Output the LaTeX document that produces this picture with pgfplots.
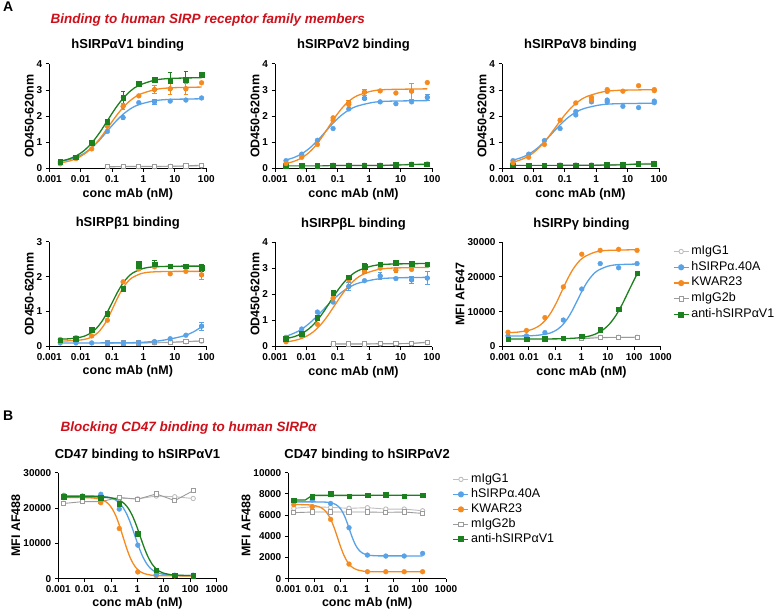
\documentclass[border=0pt]{standalone}
\usepackage{pgfplots}
\pgfplotsset{compat=1.18}
\usepackage{fontspec}
\setmainfont{Liberation Sans}
\definecolor{bcol}{RGB}{88,162,232}
\definecolor{ocol}{RGB}{245,138,30}
\definecolor{gcol}{RGB}{28,128,30}
\definecolor{lgone}{RGB}{190,190,190}
\definecolor{lgtwo}{RGB}{155,155,155}
\definecolor{redt}{RGB}{205,16,26}
\newcommand{\labfont}{\bfseries\fontsize{12.5}{15}\selectfont}
\pgfplotsset{
  prism/.style={
    scale only axis, width=157pt, height=104.5pt,
    axis x line*=bottom, axis y line*=left,
    axis line style={line width=1pt, black},
    tick align=outside, major tick length=3.5pt,
    every tick/.style={line width=1pt, black},
    xtick={-3,-2,-1,0,1,2}, xticklabels={0.001,0.01,0.1,1,10,100},
    xmin=-3, xmax=2, ymin=0, enlargelimits=false,
    ticklabel style={font=\bfseries\fontsize{10}{12}\selectfont},
    scaled y ticks=false, scaled x ticks=false,
    title style={font=\bfseries\fontsize{13}{15}\selectfont, at={(axis description cs:0.5,1)}, anchor=base, yshift=9pt},
    xlabel={conc mAb (nM)},
    every axis x label/.style={at={(axis description cs:0.5,-0.273)}, anchor=base, font=\labfont},
    every axis y label/.style={at={(axis description cs:-0.127,0.5)}, rotate=90, anchor=center, font=\labfont},
    clip=false,
  },
  mfi/.style={
    every axis y label/.style={at={(axis description cs:-0.268,0.5)}, rotate=90, anchor=center, font=\labfont},
    xmax=3, xtick={-3,-2,-1,0,1,2,3}, xticklabels={0.001,0.01,0.1,1,10,100,1000},
  },
  fitb/.style={smooth, no markers, line width=1.3pt, color=bcol, forget plot},
  fito/.style={smooth, no markers, line width=1.3pt, color=ocol, forget plot},
  fitg/.style={smooth, no markers, line width=1.3pt, color=gcol, forget plot},
  ptb/.style={only marks, mark=*, mark size=2.4pt, color=bcol, forget plot},
  pto/.style={only marks, mark=*, mark size=2.4pt, color=ocol, forget plot},
  ptg/.style={only marks, mark=square*, mark size=2.3pt, color=gcol, forget plot},
  lng/.style={mark=square*, mark size=2.3pt, color=gcol, line width=1.1pt, forget plot},
  gone/.style={color=lgone, mark=*, mark size=2.2pt, mark options={fill=white}, line width=0.9pt, forget plot},
  gtwo/.style={color=lgtwo, mark=square*, mark size=2.1pt, mark options={fill=white}, line width=0.9pt, forget plot},
  errb/.style={only marks, mark=none, forget plot, error bars/.cd, y dir=both, y explicit,
     error bar style={line width=0.9pt, color=#1},
     error mark options={rotate=90, mark size=2.3pt, line width=0.9pt, color=#1}},
  leg/.style={
     legend cell align=left,
     legend image code/.code={\draw[mark repeat=2,mark phase=2] plot coordinates {(0pt,0pt) (7.5pt,0pt) (15pt,0pt)};},
     legend style={draw=none, fill=none, font=\fontsize{12.5}{15}\selectfont, inner sep=0pt,
        nodes={inner sep=2pt, text height=8.5pt, text depth=3pt}, row sep=0.3pt},
  },
}
\begin{document}
\begin{tikzpicture}
\path[use as bounding box] (0pt,0pt) rectangle (778pt,-612pt);

\node[anchor=base west, font=\bfseries\fontsize{14}{16}\selectfont] at (-0.5pt,-12pt) {A};
\node[anchor=base west, font=\bfseries\fontsize{14}{16}\selectfont] at (-0.5pt,-420pt) {B};
\node[anchor=base west, text=redt, font=\bfseries\itshape\fontsize{13.5}{16}\selectfont] at (47pt,-24pt) {Binding to human SIRP receptor family members};
\node[anchor=base west, text=redt, font=\bfseries\itshape\fontsize{13.5}{16}\selectfont] at (57pt,-431pt) {Blocking CD47 binding to human SIRPα};

% ---------------- P1 hSIRPaV1
\begin{axis}[prism, at={(49.3pt,-168.5pt)}, anchor=south west, ymax=4, ytick={0,1,2,3,4}, yticklabels={0,1,2,3,4},
  title={hSIRPαV1 binding}, ylabel={OD450-620nm}]
\addplot[gone] coordinates {(-1.15,0.06)(-0.65,0.07)(-0.15,0.07)(0.35,0.07)(0.85,0.08)(1.35,0.08)(1.85,0.10)};
\addplot[gtwo] coordinates {(-1.15,0.07)(-0.65,0.08)(-0.15,0.08)(0.35,0.08)(0.85,0.09)(1.35,0.10)(1.85,0.13)};
\addplot[fitb] coordinates {(-2.65,0.276)(-2.40,0.331)(-2.15,0.425)(-1.90,0.573)(-1.65,0.794)(-1.40,1.089)(-1.15,1.435)(-0.90,1.781)(-0.65,2.076)(-0.40,2.297)(-0.15,2.445)(0.35,2.594)(0.85,2.645)(1.85,2.668)};
\addplot[fito] coordinates {(-2.65,0.212)(-2.35,0.289)(-2.10,0.402)(-1.85,0.582)(-1.60,0.849)(-1.35,1.206)(-1.10,1.625)(-0.85,2.044)(-0.60,2.402)(-0.35,2.668)(-0.10,2.848)(0.40,3.028)(0.90,3.090)(1.85,3.117)};
\addplot[fitg] coordinates {(-2.65,0.281)(-2.40,0.356)(-2.15,0.480)(-1.90,0.678)(-1.65,0.973)(-1.40,1.368)(-1.15,1.830)(-0.90,2.292)(-0.65,2.687)(-0.40,2.982)(-0.15,3.180)(0.35,3.379)(0.85,3.447)(1.85,3.477)};
\addplot[errb=gcol] coordinates {(-0.65,2.72)+-(0,0.22)(0.35,3.40)+-(0,0.08)(0.85,3.36)+-(0,0.30)(1.35,3.40)+-(0,0.33)};
\addplot[errb=ocol] coordinates {(-0.65,2.38)+-(0,0.12)(0.35,3.02)+-(0,0.15)(0.85,3.05)+-(0,0.20)(1.35,3.05)+-(0,0.22)};
\addplot[errb=bcol] coordinates {(0.35,2.55)+-(0,0.10)(-0.65,1.95)+-(0,0.05)};
\addplot[ptb] coordinates {(-2.65,0.25)(-2.15,0.42)(-1.65,0.95)(-1.15,1.42)(-0.65,1.95)(-0.15,2.52)(0.35,2.55)(0.85,2.58)(1.35,2.62)(1.85,2.70)};
\addplot[pto] coordinates {(-2.65,0.18)(-2.15,0.38)(-1.65,0.75)(-1.15,1.62)(-0.65,2.38)(-0.15,2.78)(0.35,3.02)(0.85,3.05)(1.35,3.05)(1.85,3.28)};
\addplot[ptg] coordinates {(-2.65,0.26)(-2.15,0.43)(-1.65,0.98)(-1.15,1.78)(-0.65,2.72)(-0.15,3.25)(0.35,3.40)(0.85,3.36)(1.35,3.40)(1.85,3.58)};
\end{axis}

% ---------------- P2 hSIRPaV2
\begin{axis}[prism, at={(275pt,-168.5pt)}, anchor=south west, ymax=4, ytick={0,1,2,3,4}, yticklabels={0,1,2,3,4},
  title={hSIRPαV2 binding}, ylabel={OD450-620nm}]
\addplot[gone] coordinates {(-1.15,0.13)(-0.65,0.13)(-0.15,0.13)(0.35,0.13)(0.85,0.15)(1.35,0.17)(1.85,0.18)};
\addplot[gtwo] coordinates {(-1.15,0.12)(-0.65,0.12)(-0.15,0.12)(0.35,0.12)(0.85,0.13)(1.35,0.16)(1.85,0.17)};
\addplot[lng] coordinates {(-2.65,0.10)(-2.15,0.10)(-1.65,0.10)(-1.15,0.11)(-0.65,0.11)(-0.15,0.11)(0.35,0.11)(0.85,0.13)(1.35,0.15)(1.85,0.15)};
\addplot[fitb] coordinates {(-2.65,0.328)(-2.4,0.418)(-2.15,0.562)(-1.9,0.777)(-1.65,1.064)(-1.4,1.4)(-1.15,1.736)(-0.9,2.023)(-0.65,2.238)(-0.4,2.382)(0.1,2.526)(0.6,2.576)(1.85,2.599)};
\addplot[fito] coordinates {(-2.65,0.194)(-2.436,0.257)(-2.209,0.368)(-1.982,0.545)(-1.755,0.809)(-1.527,1.162)(-1.30,1.575)(-1.073,1.988)(-0.845,2.341)(-0.618,2.605)(-0.391,2.782)(0.064,2.959)(0.518,3.021)(1.85,3.049)};
\addplot[errb=ocol] coordinates {(1.35,2.96)+-(0,0.30)(-0.15,2.92)+-(0,0.12)(-0.65,2.52)+-(0,0.08)};
\addplot[errb=bcol] coordinates {(1.85,2.72)+-(0,0.12)(-0.15,2.68)+-(0,0.05)};
\addplot[ptb] coordinates {(-2.65,0.30)(-2.15,0.55)(-1.65,1.08)(-1.15,1.53)(-0.65,2.28)(-0.15,2.68)(0.35,2.55)(0.85,2.48)(1.35,2.55)(1.85,2.72)};
\addplot[pto] coordinates {(-2.65,0.19)(-2.15,0.43)(-1.65,0.92)(-1.15,1.94)(-1.15,1.85)(-0.65,2.52)(-0.65,2.45)(-0.15,2.92)(0.35,2.97)(0.85,2.89)(1.35,2.96)(1.85,3.29)};
\end{axis}

% ---------------- P3 hSIRPaV8
\begin{axis}[prism, at={(502pt,-168.5pt)}, anchor=south west, ymax=4, ytick={0,1,2,3,4}, yticklabels={0,1,2,3,4},
  title={hSIRPαV8 binding}, ylabel={OD450-620nm}]
\addplot[gone] coordinates {(-1.15,0.14)(-0.65,0.14)(-0.15,0.14)(0.35,0.15)(0.85,0.16)(1.35,0.19)(1.85,0.20)};
\addplot[gtwo] coordinates {(-1.15,0.12)(-0.65,0.12)(-0.15,0.12)(0.35,0.13)(0.85,0.14)(1.35,0.17)(1.85,0.18)};
\addplot[lng] coordinates {(-2.65,0.12)(-2.15,0.12)(-1.65,0.12)(-1.15,0.12)(-0.65,0.12)(-0.15,0.12)(0.35,0.13)(0.85,0.14)(1.35,0.17)(1.85,0.17)};
\addplot[fitb] coordinates {(-2.65,0.322)(-2.4,0.409)(-2.15,0.547)(-1.9,0.753)(-1.65,1.028)(-1.4,1.35)(-1.15,1.672)(-0.9,1.947)(-0.65,2.153)(-0.4,2.291)(0.1,2.429)(0.6,2.477)(1.85,2.499)};
\addplot[fito] coordinates {(-2.65,0.244)(-2.55,0.274)(-2.30,0.384)(-2.05,0.558)(-1.80,0.817)(-1.55,1.164)(-1.30,1.570)(-1.05,1.976)(-0.80,2.323)(-0.55,2.582)(-0.30,2.756)(0.20,2.931)(0.70,2.991)(1.85,3.018)};
\addplot[ptb] coordinates {(-2.65,0.30)(-2.15,0.55)(-1.65,1.07)(-1.15,1.53)(-0.65,2.05)(-0.65,2.18)(-0.15,2.55)(0.35,2.62)(0.35,2.55)(0.85,2.38)(1.35,2.33)(1.85,2.52)(1.85,2.58)};
\addplot[pto] coordinates {(-2.65,0.22)(-2.15,0.43)(-1.65,0.92)(-1.15,1.85)(-0.65,2.51)(-0.15,2.72)(-0.15,2.62)(0.35,3.02)(0.35,2.95)(0.85,2.96)(1.35,3.17)(1.85,3.02)(1.85,2.98)};
\end{axis}

% ---------------- P4 hSIRPb1
\begin{axis}[prism, at={(49.3pt,-346.4pt)}, anchor=south west, height=104.7pt, ymax=3, ytick={0,1,2,3}, yticklabels={0,1,2,3},
  title={hSIRPβ1 binding}, ylabel={OD450-620nm}]
\addplot[gone] coordinates {(-1.15,0.09)(-0.65,0.09)(-0.15,0.09)(0.35,0.10)(0.85,0.11)(1.35,0.13)(1.85,0.15)};
\addplot[gtwo] coordinates {(-1.15,0.10)(-0.65,0.10)(-0.15,0.10)(0.35,0.12)(0.85,0.12)(1.35,0.14)(1.85,0.16)};
\addplot[fitb] coordinates {(-2.65,0.10)(-1.5,0.10)(-0.5,0.105)(0,0.12)(0.5,0.16)(1,0.24)(1.35,0.32)(1.6,0.42)(1.85,0.56)};
\addplot[fito] coordinates {(-2.65,0.152)(-2.126,0.170)(-1.832,0.211)(-1.685,0.256)(-1.538,0.332)(-1.391,0.452)(-1.244,0.631)(-1.097,0.870)(-0.95,1.15)(-0.803,1.43)(-0.656,1.669)(-0.509,1.848)(-0.362,1.968)(-0.068,2.089)(0.226,2.130)(0.815,2.148)(1.85,2.15)};
\addplot[fitg] coordinates {(-2.65,0.207)(-2.333,0.221)(-2.0,0.265)(-1.833,0.312)(-1.667,0.391)(-1.5,0.517)(-1.333,0.705)(-1.167,0.956)(-1.0,1.25)(-0.833,1.544)(-0.667,1.795)(-0.5,1.983)(-0.333,2.109)(0.0,2.236)(0.333,2.279)(1.0,2.298)(1.85,2.30)};
\addplot[errb=gcol] coordinates {(0.35,2.35)+-(0,0.10)(1.85,2.25)+-(0,0.10)(-0.15,2.38)+-(0,0.05)};
\addplot[errb=ocol] coordinates {(1.85,2.05)+-(0,0.12)};
\addplot[errb=bcol] coordinates {(1.85,0.58)+-(0,0.12)};
\addplot[ptb] coordinates {(-2.65,0.10)(-2.15,0.10)(-1.65,0.10)(-1.15,0.10)(-0.65,0.10)(-0.15,0.11)(0.35,0.14)(0.85,0.22)(1.35,0.32)(1.85,0.58)};
\addplot[pto] coordinates {(-2.65,0.20)(-2.15,0.25)(-1.65,0.30)(-1.15,0.75)(-0.65,1.85)(-0.15,2.22)(0.35,2.28)(0.85,2.08)(1.35,2.15)(1.85,2.05)};
\addplot[ptg] coordinates {(-2.65,0.18)(-2.15,0.22)(-1.65,0.48)(-1.15,0.93)(-0.65,1.65)(-0.15,2.38)(-0.15,2.32)(0.35,2.35)(0.85,2.30)(1.35,2.30)(1.85,2.25)};
\end{axis}

% ---------------- P5 hSIRPbL
\begin{axis}[prism, at={(275pt,-346.5pt)}, anchor=south west, ymax=4, ytick={0,1,2,3,4}, yticklabels={0,1,2,3,4},
  title={hSIRPβL binding}, ylabel={OD450-620nm}]
\addplot[gone] coordinates {(-1.15,0.09)(-0.65,0.09)(-0.15,0.09)(0.35,0.10)(0.85,0.10)(1.35,0.11)(1.85,0.15)};
\addplot[gtwo] coordinates {(-1.15,0.10)(-0.65,0.10)(-0.15,0.10)(0.35,0.11)(0.85,0.11)(1.35,0.12)(1.85,0.17)};
\addplot[fitb] coordinates {(-2.65,0.388)(-2.283,0.570)(-2.006,0.789)(-1.728,1.082)(-1.45,1.425)(-1.172,1.768)(-0.894,2.061)(-0.617,2.280)(-0.339,2.427)(0.217,2.575)(0.772,2.626)(1.85,2.647)};
\addplot[fito] coordinates {(-2.65,0.176)(-2.464,0.209)(-2.236,0.275)(-2.009,0.385)(-1.782,0.559)(-1.555,0.819)(-1.327,1.167)(-1.1,1.575)(-0.873,1.982)(-0.645,2.331)(-0.418,2.591)(-0.191,2.765)(0.264,2.941)(0.718,3.001)(1.85,3.028)};
\addplot[fitg] coordinates {(-2.65,0.303)(-2.386,0.377)(-2.159,0.489)(-1.932,0.667)(-1.705,0.931)(-1.477,1.285)(-1.25,1.70)(-1.023,2.114)(-0.795,2.469)(-0.568,2.733)(-0.341,2.911)(0.114,3.089)(0.568,3.150)(1.85,3.178)};
\addplot[errb=gcol] coordinates {(-0.65,2.65)+-(0,0.08)(-0.15,3.05)+-(0,0.12)(0.35,3.15)+-(0,0.06)};
\addplot[errb=ocol] coordinates {(-0.15,2.88)+-(0,0.10)(0.85,2.92)+-(0,0.10)};
\addplot[errb=bcol] coordinates {(-0.65,2.30)+-(0,0.15)(0.35,2.70)+-(0,0.12)(1.35,2.55)+-(0,0.12)(1.85,2.62)+-(0,0.25)};
\addplot[ptb] coordinates {(-2.65,0.35)(-2.15,0.67)(-1.65,1.32)(-1.15,1.70)(-0.65,2.30)(-0.15,2.52)(0.35,2.70)(0.85,2.60)(1.35,2.55)(1.85,2.62)};
\addplot[pto] coordinates {(-2.65,0.18)(-2.15,0.40)(-1.65,0.85)(-1.15,1.85)(-0.65,2.55)(-0.15,2.88)(0.35,3.00)(0.85,2.92)(1.35,2.95)(1.85,3.10)};
\addplot[ptg] coordinates {(-2.65,0.30)(-2.15,0.50)(-1.65,1.10)(-1.15,2.05)(-0.65,2.65)(-0.15,3.05)(0.35,3.15)(0.85,3.20)(1.35,3.18)(1.85,3.15)};
\end{axis}

% ---------------- P6 hSIRPg
\begin{axis}[prism, mfi, leg, at={(502.5pt,-346.5pt)}, anchor=south west, width=158pt, ymax=30000,
  ytick={0,10000,20000,30000}, yticklabels={0,10000,20000,30000},
  title={hSIRPγ binding}, ylabel={MFI AF647},
  legend style={at={(axis description cs:1.078,0.985)}, anchor=north west}]
\addlegendimage{color=lgone, mark=*, mark size=2.2pt, mark options={fill=white}, line width=0.9pt}
\addlegendentry{mIgG1}
\addlegendimage{color=bcol, mark=*, mark size=2.4pt, line width=1.3pt}
\addlegendentry{hSIRPα.40A}
\addlegendimage{color=ocol, mark=*, mark size=2.4pt, line width=1.3pt}
\addlegendentry{KWAR23}
\addlegendimage{color=lgtwo, mark=square*, mark size=2.1pt, mark options={fill=white}, line width=0.9pt}
\addlegendentry{mIgG2b}
\addlegendimage{color=gcol, mark=square*, mark size=2.3pt, line width=1.3pt}
\addlegendentry{anti-hSIRPαV1}
\addplot[gone] coordinates {(0.01,2750)(0.71,2650)(1.41,2650)(2.11,2650)};
\addplot[gtwo] coordinates {(0.01,2200)(0.71,2550)(1.41,2600)(2.11,2600)};
\addplot[fitb] coordinates {(-2.79,3000)(-2.073,3066)(-1.688,3205)(-1.304,3636)(-1.112,4101)(-0.919,4882)(-0.727,6126)(-0.535,7974)(-0.342,10450)(-0.15,13350)(0.042,16250)(0.235,18726)(0.427,20574)(0.619,21818)(1.004,23064)(1.388,23495)(2.11,23676)};
\addplot[fito] coordinates {(-2.79,3986)(-2.417,4137)(-2.0,4634)(-1.792,5171)(-1.583,6073)(-1.375,7509)(-1.167,9643)(-0.958,12502)(-0.75,15850)(-0.542,19198)(-0.333,22057)(-0.125,24191)(0.083,25627)(0.5,27066)(0.917,27563)(2.11,27790)};
\addplot[fitg] coordinates {(-2.79,2150)(-1.2,2178)(-0.7,2239)(-0.2,2426)(0.05,2637)(0.30,3005)(0.55,3632)(0.80,4682)(1.05,6355)(1.30,8842)(1.55,12173)(1.80,16075)(2.11,20837)};
\addplot[ptb] coordinates {(-2.79,3050)(-2.09,3050)(-1.39,4000)(-0.69,7600)(0.01,16500)(0.71,23800)(1.41,22600)(2.11,23800)};
\addplot[pto] coordinates {(-2.79,4100)(-2.09,4600)(-1.39,8300)(-0.69,17100)(0.01,26500)(0.71,27600)(1.41,27900)(2.11,27600)};
\addplot[ptg] coordinates {(-2.79,2100)(-2.09,2100)(-1.39,2200)(-0.69,2400)(0.01,2950)(0.71,4800)(1.41,10700)(2.11,21100)};
\end{axis}

% ---------------- P7 CD47 to hSIRPaV1
\begin{axis}[prism, mfi, at={(58.3pt,-578.7pt)}, anchor=south west, width=158.4pt, height=106pt, ymax=30000,
  ytick={0,10000,20000,30000}, yticklabels={0,10000,20000,30000},
  title={CD47 binding to hSIRPαV1}, title style={yshift=-1pt}, ylabel={MFI AF488},
  every axis x label/.style={at={(axis description cs:0.5,-0.262)}, anchor=base, font=\labfont}]
\addplot[gone] coordinates {(-2.79,22900)(-2.09,22900)(-1.39,22900)(-0.69,22800)(0.01,22600)(0.71,23400)(1.41,23200)(2.11,22700)};
\addplot[gtwo] coordinates {(-2.79,21300)(-2.09,21800)(-1.39,21800)(-0.69,23000)(0.01,22500)(0.71,24000)(1.41,22100)(2.11,24900)};
\addplot[fitb] coordinates {(-2.79,23500)(-1.571,23428)(-1.276,23276)(-0.982,22806)(-0.835,22298)(-0.688,21446)(-0.541,20087)(-0.394,18069)(-0.247,15366)(-0.1,12200)(0.047,9034)(0.194,6331)(0.341,4313)(0.488,2954)(0.635,2102)(0.782,1594)(1.076,1124)(1.371,972)(1.665,923)(2.11,900)};
\addplot[fito] coordinates {(-2.79,23000)(-2.129,22978)(-1.866,22929)(-1.603,22780)(-1.339,22318)(-1.208,21819)(-1.076,20982)(-0.945,19648)(-0.813,17665)(-0.682,15010)(-0.55,11900)(-0.418,8790)(-0.287,6135)(-0.155,4152)(-0.024,2818)(0.108,1981)(0.239,1482)(0.503,1020)(0.766,871)(1.029,822)(2.11,800)};
\addplot[fitg] coordinates {(-2.79,23200)(-1.665,23178)(-1.371,23129)(-1.076,22979)(-0.782,22515)(-0.635,22014)(-0.488,21173)(-0.341,19833)(-0.194,17841)(-0.047,15174)(0.1,12050)(0.247,8926)(0.394,6259)(0.541,4267)(0.688,2927)(0.835,2086)(0.982,1585)(1.276,1121)(1.571,971)(1.865,922)(2.11,905)};
\addplot[pto] coordinates {(-2.79,23000)(-2.09,23000)(-1.39,21500)(-0.69,14200)(0.01,1900)(0.71,850)(1.41,800)(2.11,800)};
\addplot[ptb] coordinates {(-2.79,23600)(-2.09,23400)(-1.39,23900)(-0.69,19700)(0.01,9500)(0.71,1200)(1.41,1000)(2.11,1000)};
\addplot[ptg] coordinates {(-2.79,23200)(-2.09,23200)(-1.39,23000)(-0.69,21300)(0.01,12800)(0.71,2450)(1.41,950)(2.11,900)};
\end{axis}

% ---------------- P8 CD47 to hSIRPaV2
\begin{axis}[prism, mfi, leg, at={(288.3pt,-578.7pt)}, anchor=south west, width=157.7pt, height=106pt, ymax=10000,
  ytick={0,2000,4000,6000,8000,10000}, yticklabels={0,2000,4000,6000,8000,10000},
  title={CD47 binding to hSIRPαV2}, title style={yshift=-1pt}, ylabel={MFI AF488},
  every axis x label/.style={at={(axis description cs:0.5,-0.262)}, anchor=base, font=\labfont},
  legend style={at={(axis description cs:1.042,1.012)}, anchor=north west, row sep=-0.5pt}]
\addlegendimage{color=lgone, mark=*, mark size=2.2pt, mark options={fill=white}, line width=0.9pt}
\addlegendentry{mIgG1}
\addlegendimage{color=bcol, mark=*, mark size=2.4pt, line width=1.3pt}
\addlegendentry{hSIRPα.40A}
\addlegendimage{color=ocol, mark=*, mark size=2.4pt, line width=1.3pt}
\addlegendentry{KWAR23}
\addlegendimage{color=lgtwo, mark=square*, mark size=2.1pt, mark options={fill=white}, line width=0.9pt}
\addlegendentry{mIgG2b}
\addlegendimage{color=gcol, mark=square*, mark size=2.3pt, line width=1.3pt}
\addlegendentry{anti-hSIRPαV1}
\addplot[gone] coordinates {(-2.79,6640)(-2.09,6790)(-1.39,6730)(-0.69,6640)(0.01,6700)(0.71,6570)(1.41,6570)(2.11,6410)};
\addplot[gtwo] coordinates {(-2.79,6230)(-2.09,6290)(-1.39,6290)(-0.69,6290)(0.01,6290)(0.71,6260)(1.41,6290)(2.11,6160)};
\addplot[fitb] coordinates {(-2.79,7250)(-1.88,7245)(-1.68,7234)(-1.48,7200)(-1.28,7093)(-1.18,6979)(-1.08,6786)(-0.98,6480)(-0.88,6024)(-0.78,5415)(-0.68,4700)(-0.58,3985)(-0.48,3376)(-0.38,2920)(-0.28,2614)(-0.18,2421)(-0.08,2307)(0.12,2200)(0.32,2166)(0.52,2155)(2.11,2150)};
\addplot[fito] coordinates {(-2.79,7000)(-2.576,6994)(-2.334,6980)(-2.091,6937)(-1.848,6805)(-1.727,6662)(-1.605,6423)(-1.484,6041)(-1.363,5474)(-1.241,4715)(-1.12,3825)(-0.999,2935)(-0.877,2176)(-0.756,1609)(-0.635,1227)(-0.513,988)(-0.392,845)(-0.149,713)(0.094,670)(0.336,656)(2.11,650)};
\addplot[color=gcol, line width=1.3pt, forget plot] coordinates {(-2.79,7420)(-2.35,7430)(-2.09,7860)(2.11,7870)};
\addplot[ptb] coordinates {(-2.79,7260)(-2.09,7420)(-1.39,7100)(-0.69,4810)(0.01,2230)(0.71,2140)(1.41,2140)(2.11,2390)};
\addplot[pto] coordinates {(-2.79,6980)(-2.09,6790)(-1.39,5600)(-0.69,1380)(0.01,660)(0.71,660)(1.41,660)(2.11,660)};
\addplot[ptg] coordinates {(-2.79,7420)(-2.09,7740)(-1.39,8020)(-0.69,7800)(0.01,7860)(0.71,7920)(1.41,7800)(2.11,7860)};
\end{axis}
\end{tikzpicture}
\end{document}
